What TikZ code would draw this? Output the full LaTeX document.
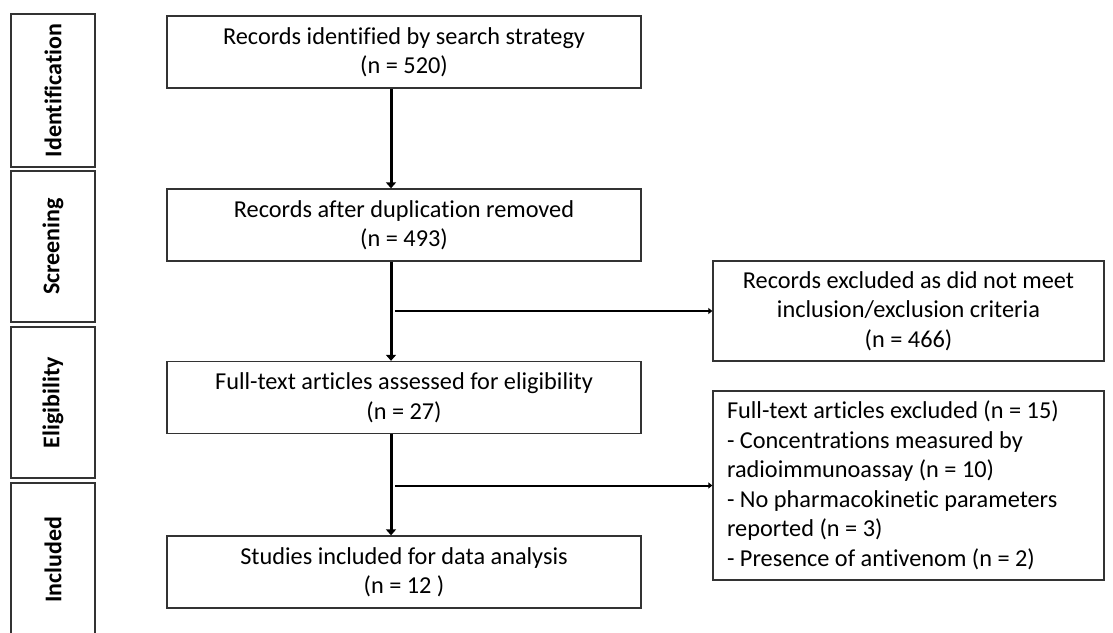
\documentclass[tikz,border=0pt]{standalone}
\usepackage{fontspec}
\setmainfont{Carlito}[Ligatures=NoCommon]
\usetikzlibrary{arrows.meta}
\begin{document}
\begin{tikzpicture}[x=1pt,y=-1pt,line width=1.3pt,every node/.style={font=\fontsize{24.3}{29.5}\selectfont,inner sep=0pt},
  box/.style={draw=black!80,minimum width=474,minimum height=72,align=center},
  sidebox/.style={draw=black!80,rotate=90,minimum height=84,font=\fontsize{24}{28}\selectfont\bfseries},
  exbox/.style={draw=black!80,minimum width=391,align=center},
  trunk/.style={line width=3pt,-{Triangle[width=10pt,length=6pt]}},
  branch/.style={line width=2pt,-{Triangle[width=6pt,length=4pt]}}]
\useasboundingbox (0,0) rectangle (1113,632);
\node[sidebox,minimum width=153] (ident) at (53,90.5) {Identification};
\node[sidebox,minimum width=151] (screen) at (53,246.5) {Screening};
\node[sidebox,minimum width=151] (elig) at (53,402.5) {Eligibility};
\node[sidebox,minimum width=153] (incl) at (53,559.5) {Included};
\node[box] (found) at (404,52) {Records identified by search strategy\\(n = 520)};
\node[box] (dedup) at (404,225) {Records after duplication removed\\(n = 493)};
\node[box] (full) at (404,397.5) {Full-text articles assessed for eligibility\\(n = 27)};
\node[box] (final) at (404,572) {Studies included for data analysis\\(n = 12 )};
\node[exbox,minimum height=100] (crit) at (908.5,311) {Records excluded as did not meet\\inclusion/exclusion criteria\\(n = 466)};
\node[draw=black!80,minimum width=391,minimum height=189,text width=363] (drop) at (908.5,485.5) {\raggedright\spaceskip=0pt\xspaceskip=0pt Full-text articles excluded (n = 15)\\- Concentrations measured by\\radioimmunoassay (n = 10)\\- No pharmacokinetic parameters\\reported (n = 3)\\- Presence of antivenom (n = 2)};
\draw[trunk] ([xshift=-13]found.south) -- ([xshift=-13]dedup.north);
\draw[trunk] ([xshift=-13]dedup.south) -- ([xshift=-13]full.north);
\draw[trunk] ([xshift=-13]full.south) -- ([xshift=-13]final.north);
\coordinate (c1) at (395,311);
\coordinate (c2) at (395,485.5);
\draw[branch] (c1) -- (crit.west);
\draw[branch] (c2) -- (drop.west);
\end{tikzpicture}
\end{document}
